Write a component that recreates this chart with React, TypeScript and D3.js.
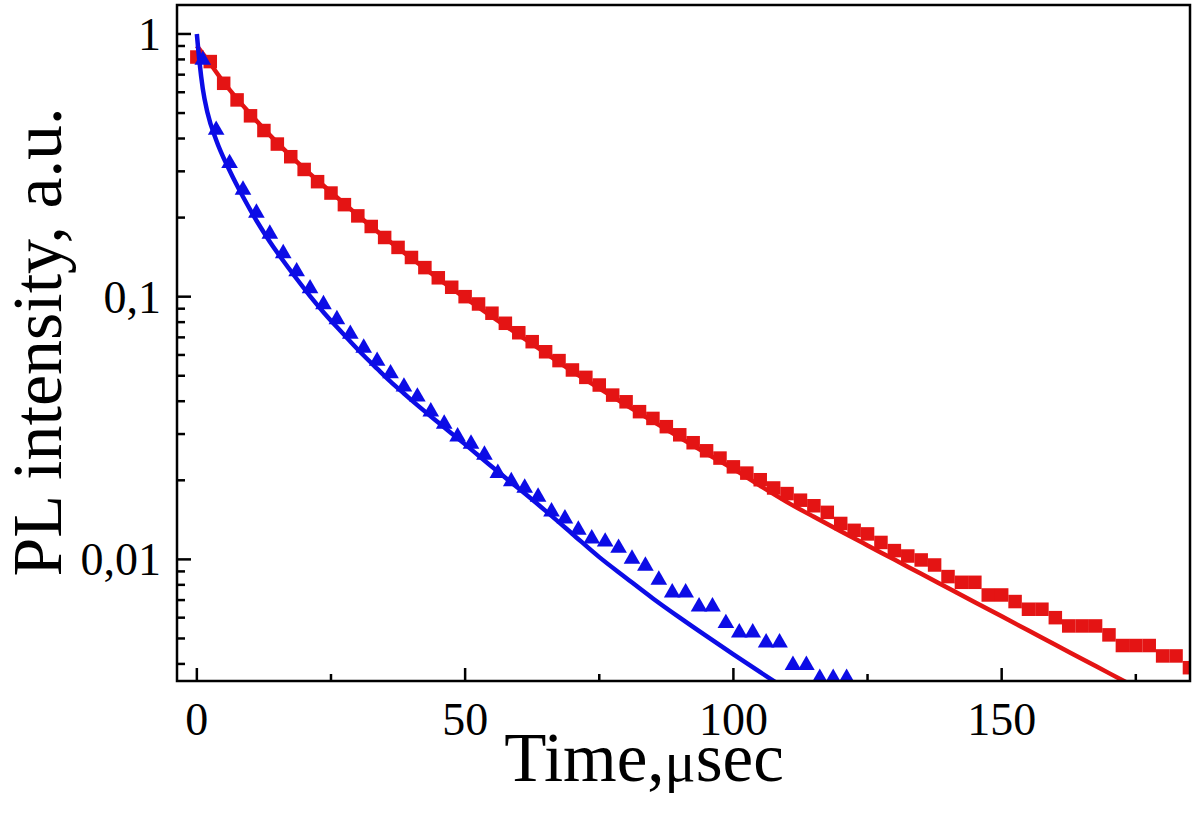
import React from "react";
import * as d3 from "d3";

// ---- Data ----
const redTimes = [0, 2.5, 5, 7.5, 10, 12.5, 15, 17.5, 20, 22.5, 25, 27.5, 30, 32.5, 35, 37.5, 40, 42.5, 45, 47.5, 50, 52.5, 55, 57.5, 60, 62.5, 65, 67.5, 70, 72.5, 75, 77.5, 80, 82.5, 85, 87.5, 90, 92.5, 95, 97.5, 100, 102.5, 105, 107.5, 110, 112.5, 115, 117.5, 120, 122.5, 125, 127.5, 130, 132.5, 135, 137.5, 140, 142.5, 145, 147.5, 150, 152.5, 155, 157.5, 160, 162.5, 165, 167.5, 170, 172.5, 175, 177.5, 180, 182.5, 185];
const redValues = [0.817, 0.785, 0.649, 0.561, 0.488, 0.429, 0.381, 0.341, 0.305, 0.274, 0.248, 0.224, 0.203, 0.185, 0.168, 0.154, 0.141, 0.129, 0.118, 0.1086, 0.1, 0.0938, 0.0865, 0.0792, 0.0729, 0.0674, 0.0617, 0.0571, 0.0526, 0.0493, 0.0461, 0.0422, 0.0398, 0.0365, 0.0344, 0.032, 0.0298, 0.0278, 0.0259, 0.0243, 0.0225, 0.0213, 0.0201, 0.0187, 0.0178, 0.0168, 0.016, 0.0151, 0.0137, 0.0129, 0.0125, 0.0116, 0.0108, 0.0103, 0.00995, 0.00952, 0.0086, 0.00818, 0.00818, 0.00732, 0.00732, 0.00691, 0.00646, 0.00646, 0.006, 0.00558, 0.00558, 0.00558, 0.00516, 0.0047, 0.0047, 0.0047, 0.00429, 0.00429, 0.00387];

const redFitTimes = [0, 2.5, 5, 10, 15, 20, 25, 30, 35, 40, 45, 50, 55, 60, 65, 70, 75, 80, 85, 90, 95, 100, 105, 110, 115, 120, 125, 130, 135, 140, 145, 150, 155, 160, 165, 170, 175];
const redFitValues = [0.9, 0.77, 0.655, 0.495, 0.385, 0.307, 0.25, 0.204, 0.168, 0.14, 0.117, 0.099, 0.084, 0.0715, 0.061, 0.052, 0.0448, 0.0387, 0.0335, 0.0291, 0.0253, 0.0221, 0.01905, 0.01652, 0.01452, 0.0128, 0.0113, 0.00998, 0.00881, 0.00778, 0.00687, 0.00607, 0.00536, 0.00473, 0.00418, 0.00369, 0.00326];

const blueTimes = [1.1, 3.6, 6.1, 8.6, 11.1, 13.6, 16.1, 18.6, 21.1, 23.6, 26.1, 28.6, 31.1, 33.6, 36.1, 38.6, 41.1, 43.6, 46.1, 48.6, 51.1, 53.6, 56.1, 58.6, 61.1, 63.6, 66.1, 68.6, 71.1, 73.6, 76.1, 78.6, 81.1, 83.6, 86.1, 88.6, 91.1, 93.6, 96.1, 98.6, 101.1, 103.6, 106.1, 108.6, 111.1, 113.6, 116.1, 118.6, 121.1];
const blueValues = [0.796, 0.431, 0.322, 0.255, 0.2083, 0.1733, 0.1461, 0.1247, 0.1074, 0.0934, 0.0819, 0.0721, 0.0638, 0.0569, 0.051, 0.0454, 0.0416, 0.0365, 0.0328, 0.0293, 0.0275, 0.025, 0.0213, 0.0198, 0.0187, 0.0173, 0.0152, 0.0143, 0.01294, 0.012, 0.01167, 0.01105, 0.01004, 0.00944, 0.00835, 0.00747, 0.00747, 0.00661, 0.00661, 0.00571, 0.00526, 0.00526, 0.00482, 0.00482, 0.00396, 0.00396, 0.00353, 0.00353, 0.00353];

const blueFitTimes = [0, 0.5, 1.1, 2, 3.6, 6.1, 8.6, 11.1, 13.6, 16.1, 18.6, 21.1, 23.6, 26.1, 28.6, 31.1, 33.6, 36.1, 38.6, 40, 45, 50, 55, 60, 65, 70, 75, 80, 85, 90, 95, 100, 105, 110];
const blueFitValues = [1.0, 0.78, 0.62, 0.5, 0.395, 0.302, 0.24, 0.195, 0.162, 0.137, 0.117, 0.1005, 0.0873, 0.0766, 0.0675, 0.0597, 0.0532, 0.0475, 0.0428, 0.0404, 0.0332, 0.0274, 0.0225, 0.0186, 0.0153, 0.0125, 0.0102, 0.0085, 0.0071, 0.006, 0.0051, 0.00435, 0.00372, 0.00319];

const xMajorTicks = [0, 50, 100, 150];
const xMinorTicks = [25, 75, 125, 175];
const yMajorTicks = [1, 0.1, 0.01];
const yMajorLabels = ["1", "0,1", "0,01"];
const yMinorTicks = [0.9, 0.8, 0.7, 0.6, 0.5, 0.4, 0.3, 0.2, 0.09, 0.08, 0.07, 0.06, 0.05, 0.04, 0.03, 0.02, 0.009, 0.008, 0.007, 0.006, 0.005, 0.004];

const RED = "#e41414";
const BLUE = "#0c0ce6";
const FONT = "'Liberation Serif', 'Times New Roman', serif";

export default function App() {
  const W = 1200, H = 817;
  const left = 177, right = 1190, top = 5, bottom = 681;
  const x = d3.scaleLinear().domain([-3.7, 185.1]).range([left, right]);
  const y = d3.scaleLog().domain([0.003444, 1.289]).range([bottom, top]);

  const line = d3
    .line<[number, number]>()
    .x((d) => x(d[0]))
    .y((d) => y(d[1]))
    .curve(d3.curveMonotoneX);

  const redFit = line(redFitTimes.map((t, i) => [t, redFitValues[i]] as [number, number])) || "";
  const blueFit = line(blueFitTimes.map((t, i) => [t, blueFitValues[i]] as [number, number])) || "";
  const tri = d3.symbol().type(d3.symbolTriangle).size(120)() || "";
  const sq = 13.5;

  return (
    <svg width={W} height={H} style={{ position: "absolute", left: 0, top: 0, background: "#fff" }}>
      <defs>
        <clipPath id="plotClip">
          <rect x={left} y={top} width={right - left} height={bottom - top} />
        </clipPath>
      </defs>
      <rect x={0} y={0} width={W} height={H} fill="#fff" />
      <g clipPath="url(#plotClip)">
        <path d={redFit} fill="none" stroke={RED} strokeWidth={4.5} />
        {redTimes.map((t, i) => (
          <rect key={"r" + i} x={x(t) - sq / 2} y={y(redValues[i]) - sq / 2} width={sq} height={sq} fill={RED} />
        ))}
        <path d={blueFit} fill="none" stroke={BLUE} strokeWidth={4.5} />
        {blueTimes.map((t, i) => (
          <path key={"b" + i} d={tri} transform={`translate(${x(t)},${y(blueValues[i])})`} fill={BLUE} />
        ))}
      </g>
      {/* frame */}
      <rect x={left} y={top} width={right - left} height={bottom - top} fill="none" stroke="#000" strokeWidth={2.5} />
      {/* y ticks */}
      {yMajorTicks.map((v, i) => (
        <g key={"ym" + i}>
          <line x1={left} x2={left + 14} y1={y(v)} y2={y(v)} stroke="#000" strokeWidth={2.5} />
          <text x={161} y={y(v) + 16} textAnchor="end" fontFamily={FONT} fontSize={46} fill="#000">
            {yMajorLabels[i]}
          </text>
        </g>
      ))}
      {yMinorTicks.map((v, i) => (
        <line key={"yn" + i} x1={left} x2={left + 8} y1={y(v)} y2={y(v)} stroke="#000" strokeWidth={2.5} />
      ))}
      {/* x ticks */}
      {xMajorTicks.map((v, i) => (
        <g key={"xm" + i}>
          <line x1={x(v)} x2={x(v)} y1={bottom} y2={bottom - 13} stroke="#000" strokeWidth={2.5} />
          <text x={x(v)} y={735} textAnchor="middle" fontFamily={FONT} fontSize={46} fill="#000">
            {String(v)}
          </text>
        </g>
      ))}
      {xMinorTicks.map((v, i) => (
        <line key={"xn" + i} x1={x(v)} x2={x(v)} y1={bottom} y2={bottom - 7} stroke="#000" strokeWidth={2.5} />
      ))}
      {/* axis titles */}
      <text x={644} y={781} textAnchor="middle" fontFamily={FONT} fontSize={69} fill="#000">
        Time,<tspan fontSize={58}>μ</tspan>sec
      </text>
      <text
        transform="translate(61,342) rotate(-90)"
        textAnchor="middle"
        fontFamily={FONT}
        fontSize={70}
        fill="#000"
      >
        PL intensity, a.u.
      </text>
    </svg>
  );
}
